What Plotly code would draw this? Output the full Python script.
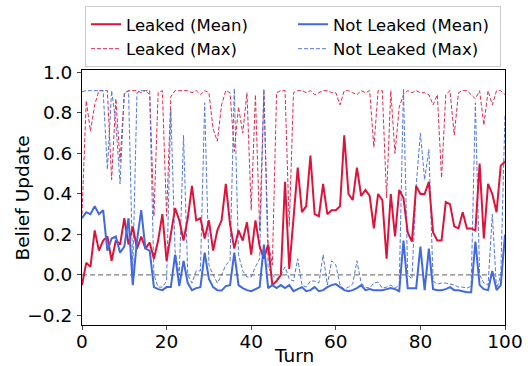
import plotly.graph_objects as go

turns = list(range(0, 101))

leaked_mean = [-0.05, 0.06, 0.04, 0.22, 0.12, 0.17, 0.19, 0.07, 0.17, 0.15,
               0.28, 0.15, 0.24, 0.13, 0.19, 0.13, 0.16, 0.08, 0.17, 0.30,
               0.07, 0.21, 0.33, 0.27, 0.17, 0.28, 0.44, 0.27, 0.28, 0.18,
               0.27, 0.12, 0.22, 0.27, 0.45, 0.25, 0.13, 0.22, 0.17, 0.26,
               0.10, 0.27, 0.14, 0.08, 0.15, -0.05, -0.03, 0.00, 0.46, 0.03,
               0.28, 0.53, 0.31, 0.34, 0.59, 0.30, 0.29, 0.45, 0.30, 0.32,
               0.32, 0.34, 0.69, 0.40, 0.37, 0.53, 0.39, 0.42, 0.39, 0.23,
               0.40, 0.37, 0.08, 0.40, 0.19, 0.42, 0.38, 0.21, 0.165, 0.44,
               0.40, 0.40, 0.46, 0.21, 0.17, 0.17, 0.36, 0.35, 0.24, 0.23,
               0.31, 0.23, 0.23, 0.22, 0.55, 0.18, 0.45, 0.40, 0.31, 0.54,
               0.56]

leaked_max = [0.30, 0.86, 0.71, 0.84, 0.91, 0.91, 0.91, 0.47, 0.87, 0.56,
              0.89, 0.91, 0.91, 0.91, 0.90, 0.91, 0.91, 0.29, 0.90, 0.91,
              0.29, 0.88, 0.91, 0.91, 0.91, 0.91, 0.90, 0.91, 0.89, 0.91,
              0.90, 0.72, 0.66, 0.84, 0.91, 0.90, 0.61, 0.83, 0.70, 0.90,
              0.32, 0.89, 0.22, 0.90, 0.16, 0.05, 0.90, 0.91, 0.91, 0.24,
              0.90, 0.91, 0.91, 0.90, 0.91, 0.89, 0.90, 0.91, 0.91, 0.90,
              0.90, 0.84, 0.91, 0.91, 0.90, 0.89, 0.91, 0.90, 0.91, 0.63,
              0.91, 0.91, 0.38, 0.91, 0.60, 0.83, 0.89, 0.91, 0.90, 0.91,
              0.90, 0.90, 0.89, 0.84, 0.89, 0.48, 0.89, 0.91, 0.69, 0.90,
              0.91, 0.91, 0.89, 0.87, 0.91, 0.74, 0.91, 0.84, 0.91, 0.91,
              0.89]

not_leaked_mean = [0.28, 0.31, 0.30, 0.34, 0.30, 0.32, 0.12, 0.18, 0.19, 0.11,
                   0.14, 0.28, -0.05, 0.17, 0.32, 0.13, 0.12, -0.06, -0.07, -0.075,
                   -0.06, -0.06, 0.10, -0.055, 0.07, -0.04, -0.075, -0.065, -0.06, 0.11,
                   -0.02, -0.06, -0.075, -0.077, -0.055, -0.05, 0.11, -0.05, -0.065, -0.075,
                   -0.08, -0.07, -0.06, 0.15, -0.065, -0.05, -0.065, -0.05, -0.065, -0.05,
                   -0.08, -0.07, -0.06, -0.08, -0.075, -0.06, -0.08, -0.075, -0.06, -0.05,
                   -0.045, -0.06, -0.075, -0.08, -0.075, -0.065, -0.05, -0.075, -0.07, -0.075,
                   -0.075, -0.075, -0.07, -0.065, -0.07, -0.08, 0.17, -0.065, -0.065, -0.065,
                   0.14, -0.075, 0.13, -0.07, -0.075, -0.075, -0.07, -0.06, -0.075, -0.075,
                   -0.08, -0.085, -0.085, 0.165, -0.05, -0.07, -0.075, 0.02, -0.075, -0.05,
                   0.20]

not_leaked_max = [0.905, 0.91, 0.91, 0.91, 0.91, 0.91, 0.52, 0.91, 0.75, 0.45,
                  0.90, 0.91, 0.02, 0.90, 0.91, 0.91, 0.89, 0.0, -0.06, -0.06,
                  -0.03, 0.82, 0.12, 0.0, 0.69, 0.0, -0.04, 0.02, 0.02, 0.85,
                  0.05, 0.0, -0.04, 0.0, 0.05, 0.07, 0.92, 0.10, 0.02, -0.01,
                  -0.01, 0.04, 0.08, 0.92, 0.04, 0.0, -0.02, 0.0, 0.04, -0.02,
                  -0.03, 0.08, -0.05, -0.06, -0.03, -0.03, -0.04, 0.10, -0.05, 0.07,
                  0.05, -0.05, -0.07, -0.06, -0.045, 0.07, -0.04, -0.06, -0.065, -0.04,
                  -0.035, -0.065, -0.06, -0.05, -0.065, -0.05, 0.92, 0.0, -0.02, 0.44,
                  0.70, 0.47, 0.62, -0.03, -0.045, -0.04, -0.04, -0.045, -0.05, -0.06,
                  -0.06, -0.065, -0.055, 0.85, 0.0, -0.04, -0.05, 0.30, -0.07, 0.0,
                  0.79]

x_ticks = [0, 20, 40, 60, 80, 100]
y_ticks = [-0.2, 0.0, 0.2, 0.4, 0.6, 0.8, 1.0]
y_ticktext = ["\u22120.2", "0.0", "0.2", "0.4", "0.6", "0.8", "1.0"]
x_title = "Turn"
y_title = "Belief Update"

RED = "#DC143C"
BLUE = "#4169E1"
FONT = "DejaVu Sans"

fig = go.Figure()
fig.add_trace(go.Scatter(x=turns, y=leaked_max, mode="lines", name="Leaked (Max)",
                         line=dict(color=RED, width=1, dash="4px,2px"), opacity=0.9,
                         legendrank=3))
fig.add_trace(go.Scatter(x=turns, y=not_leaked_max, mode="lines", name="Not Leaked (Max)",
                         line=dict(color=BLUE, width=1, dash="4px,2px"), opacity=0.9,
                         legendrank=4))
fig.add_trace(go.Scatter(x=turns, y=leaked_mean, mode="lines", name="Leaked (Mean)",
                         line=dict(color=RED, width=2), legendrank=1))
fig.add_trace(go.Scatter(x=turns, y=not_leaked_mean, mode="lines", name="Not Leaked (Mean)",
                         line=dict(color=BLUE, width=2), legendrank=2))

fig.add_hline(y=0, line=dict(color="#808080", width=1.2, dash="5px,3px"), layer="below")

# axis titles placed as annotations for precise positioning
fig.add_annotation(text=x_title, xref="paper", yref="paper", x=0.5, y=(325 - 355) / 255,
                   xanchor="center", yanchor="middle", showarrow=False,
                   font=dict(family=FONT, size=18.5, color="black"))
fig.add_annotation(text=y_title, xref="paper", yref="paper", x=(22 - 82) / 423, y=0.5,
                   xanchor="center", yanchor="middle", showarrow=False, textangle=-90,
                   font=dict(family=FONT, size=18.5, color="black"))

fig.update_layout(
    width=528, height=366,
    margin=dict(l=82, r=23, t=70, b=41, autoexpand=False),
    paper_bgcolor="white", plot_bgcolor="white",
    font=dict(family=FONT, size=18.5, color="black"),
    showlegend=True,
    legend=dict(orientation="h", xref="container", yref="container",
                x=85 / 528, xanchor="left", y=1 - 6 / 366, yanchor="top",
                bordercolor="#cccccc", borderwidth=1, bgcolor="white",
                font=dict(family=FONT, size=16.5), entrywidth=162, entrywidthmode="pixels",
                traceorder="normal", tracegroupgap=0),
    xaxis=dict(range=[0, 100], tickvals=x_ticks, ticks="outside", ticklen=4,
               ticklabelstandoff=-4,
               showline=True, mirror=True, linecolor="black", linewidth=1,
               showgrid=False, zeroline=False, automargin=False),
    yaxis=dict(range=[-0.247, 1.012], tickvals=y_ticks, ticktext=y_ticktext,
               ticks="outside", ticklen=4, ticklabelstandoff=1,
               showline=True, mirror=True, linecolor="black", linewidth=1,
               showgrid=False, zeroline=False, automargin=False),
)

fig.write_html("out.html")
